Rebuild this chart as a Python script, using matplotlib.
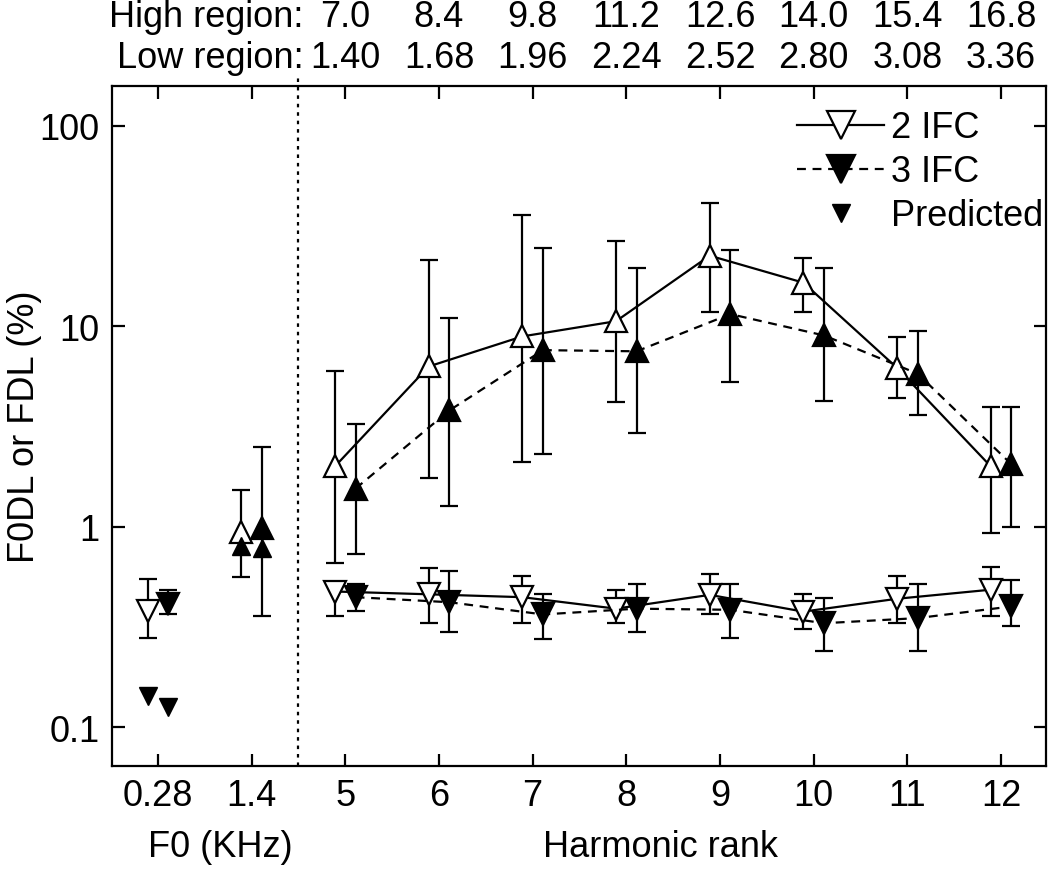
import matplotlib

matplotlib.use("Agg")
import matplotlib.pyplot as plt
from matplotlib.lines import Line2D
from matplotlib.transforms import blended_transform_factory

plt.rcParams["font.family"] = ["Liberation Sans", "DejaVu Sans"]
plt.rcParams["font.size"] = 26

# ---------------------------------------------------------------------------
# Data
# ---------------------------------------------------------------------------
xtick_labels = ["0.28", "1.4", "5", "6", "7", "8", "9", "10", "11", "12"]
high_region = ["7.0", "8.4", "9.8", "11.2", "12.6", "14.0", "15.4", "16.8"]
low_region = ["1.40", "1.68", "1.96", "2.24", "2.52", "2.80", "3.08", "3.36"]

# F0 conditions (0.28 kHz -> low, 1.4 kHz -> high)
f0_2ifc = [0.38, 0.94]
f0_2ifc_lo = [0.28, 0.56]
f0_2ifc_hi = [0.55, 1.52]
f0_3ifc = [0.41, 0.99]
f0_3ifc_lo = [0.365, 0.36]
f0_3ifc_hi = [0.486, 2.5]
pred_low = [0.143, 0.126]   # 0.28 kHz (2 IFC, 3 IFC)
pred_high = [0.80, 0.78]    # 1.4 kHz (2 IFC, 3 IFC)

# Harmonic rank 5..12, high region (upward triangles)
high_2ifc = [2.0, 6.3, 8.9, 10.6, 22.5, 16.5, 6.2, 2.0]
high_2ifc_lo = [0.66, 1.75, 2.1, 4.2, 11.8, 11.8, 4.4, 0.93]
high_2ifc_hi = [6.0, 21.5, 36.0, 26.5, 41.0, 22.0, 8.8, 3.95]
high_3ifc = [1.55, 3.8, 7.6, 7.5, 11.5, 9.0, 5.8, 2.05]
high_3ifc_lo = [0.73, 1.27, 2.3, 2.95, 5.3, 4.25, 3.6, 1.0]
high_3ifc_hi = [3.25, 11.0, 24.5, 19.5, 24.0, 19.5, 9.5, 3.95]

# Harmonic rank 5..12, low region (downward triangles)
low_2ifc = [0.475, 0.46, 0.445, 0.39, 0.457, 0.377, 0.437, 0.485]
low_2ifc_lo = [0.36, 0.33, 0.33, 0.33, 0.367, 0.31, 0.33, 0.36]
low_2ifc_hi = [0.515, 0.62, 0.57, 0.486, 0.58, 0.46, 0.57, 0.63]
low_3ifc = [0.445, 0.42, 0.365, 0.39, 0.385, 0.33, 0.35, 0.40]
low_3ifc_lo = [0.38, 0.30, 0.276, 0.30, 0.28, 0.24, 0.24, 0.32]
low_3ifc_hi = [0.515, 0.60, 0.46, 0.515, 0.515, 0.44, 0.515, 0.54]

# ---------------------------------------------------------------------------
# Layout helpers
# ---------------------------------------------------------------------------
POS = list(range(1, len(xtick_labels) + 1))
F0_POS = POS[:2]
HR_POS = POS[2:]
OFF = 0.11
LW = 1.6
MS = 16
MS_PRED = 12.5


def shift(xs, d):
    return [x + d for x in xs]


def draw_series(ax, xs, ys, lo, hi, marker, filled, ls):
    yerr = [[y - l for y, l in zip(ys, lo)], [h - y for y, h in zip(ys, hi)]]
    ax.errorbar(xs, ys, yerr=yerr, fmt="none", ecolor="black",
                elinewidth=LW, capsize=6.5, capthick=LW, zorder=2)
    ax.plot(xs, ys, color="black", linestyle=ls, linewidth=LW,
            marker=marker, markersize=MS, markeredgewidth=LW,
            markeredgecolor="black",
            markerfacecolor="black" if filled else "white", zorder=3)


fig = plt.figure(figsize=(10.5, 8.7), dpi=100)
ax = fig.add_axes([0.1067, 0.1184, 0.8895, 0.7816])
ax.set_yscale("log")

dashed = (0, (4, 3))

# F0 conditions (no connecting lines)
draw_series(ax, [F0_POS[0] - OFF], [f0_2ifc[0]], [f0_2ifc_lo[0]], [f0_2ifc_hi[0]],
            "v", False, "none")
draw_series(ax, [F0_POS[0] + OFF], [f0_3ifc[0]], [f0_3ifc_lo[0]], [f0_3ifc_hi[0]],
            "v", True, "none")
draw_series(ax, [F0_POS[1] - OFF], [f0_2ifc[1]], [f0_2ifc_lo[1]], [f0_2ifc_hi[1]],
            "^", False, "none")
draw_series(ax, [F0_POS[1] + OFF], [f0_3ifc[1]], [f0_3ifc_lo[1]], [f0_3ifc_hi[1]],
            "^", True, "none")

# predicted
ax.plot([F0_POS[0] - OFF, F0_POS[0] + OFF], pred_low, linestyle="none",
        marker="v", markersize=MS_PRED, color="black", zorder=4)
ax.plot([F0_POS[1] - OFF, F0_POS[1] + OFF], pred_high, linestyle="none",
        marker="^", markersize=MS_PRED, color="black", zorder=4)

# harmonic rank series
draw_series(ax, shift(HR_POS, -OFF), high_2ifc, high_2ifc_lo, high_2ifc_hi,
            "^", False, "-")
draw_series(ax, shift(HR_POS, OFF), high_3ifc, high_3ifc_lo, high_3ifc_hi,
            "^", True, dashed)
draw_series(ax, shift(HR_POS, -OFF), low_2ifc, low_2ifc_lo, low_2ifc_hi,
            "v", False, "-")
draw_series(ax, shift(HR_POS, OFF), low_3ifc, low_3ifc_lo, low_3ifc_hi,
            "v", True, dashed)

# divider between F0 and harmonic-rank conditions
ax.axvline(2.5, ymin=0, ymax=1.015, color="black", linestyle=(0, (1.6, 2.2)),
           linewidth=LW, clip_on=False, zorder=1)

# axes
ax.set_xlim(0.51, 10.48)
ax.set_ylim(0.064, 158)
ax.set_xticks(POS)
ax.set_xticklabels(xtick_labels)
ax.set_yticks([0.1, 1, 10, 100])
ax.set_yticklabels(["0.1", "1", "10", "100"])
ax.minorticks_off()
ax.tick_params(which="both", direction="in", length=9, width=LW,
               top=True, right=True, labelsize=26)
ax.tick_params(axis="x", pad=9)
ax.tick_params(axis="y", pad=9)
for sp in ax.spines.values():
    sp.set_linewidth(LW)

# top region labels
tr = blended_transform_factory(ax.transData, fig.transFigure)
ax.text(2.55, 0.969, "High region:", transform=tr, ha="right", va="baseline")
ax.text(2.55, 0.922, "Low region:", transform=tr, ha="right", va="baseline")
for x, hl, ll in zip(HR_POS, high_region, low_region):
    ax.text(x, 0.969, hl, transform=tr, ha="center", va="baseline")
    ax.text(x, 0.922, ll, transform=tr, ha="center", va="baseline")

# axis labels
ax.text(1.67, 0.0145, "F0 (KHz)", transform=tr, ha="center", va="baseline")
ax.text(6.37, 0.0145, "Harmonic rank", transform=tr, ha="center", va="baseline")
fig.text(0.023, 0.51, "F0DL or FDL (%)", rotation=90, ha="center", va="center")

# legend
handles = [
    Line2D([], [], color="black", linestyle="-", linewidth=LW, marker="v",
           markersize=20, markerfacecolor="white", markeredgewidth=LW),
    Line2D([], [], color="black", linestyle=dashed, linewidth=LW, marker="v",
           markersize=20, markerfacecolor="black", markeredgewidth=LW),
    Line2D([], [], color="black", linestyle="none", marker="v",
           markersize=MS_PRED),
]
ax.legend(handles, ["2 IFC", "3 IFC", "Predicted"], loc="upper right",
          bbox_to_anchor=(1.005, 0.975), frameon=False, fontsize=26,
          handlelength=2.4, handletextpad=0.2, labelspacing=0.25,
          borderpad=0.2, borderaxespad=0)

fig.savefig("out.png", dpi=100)
